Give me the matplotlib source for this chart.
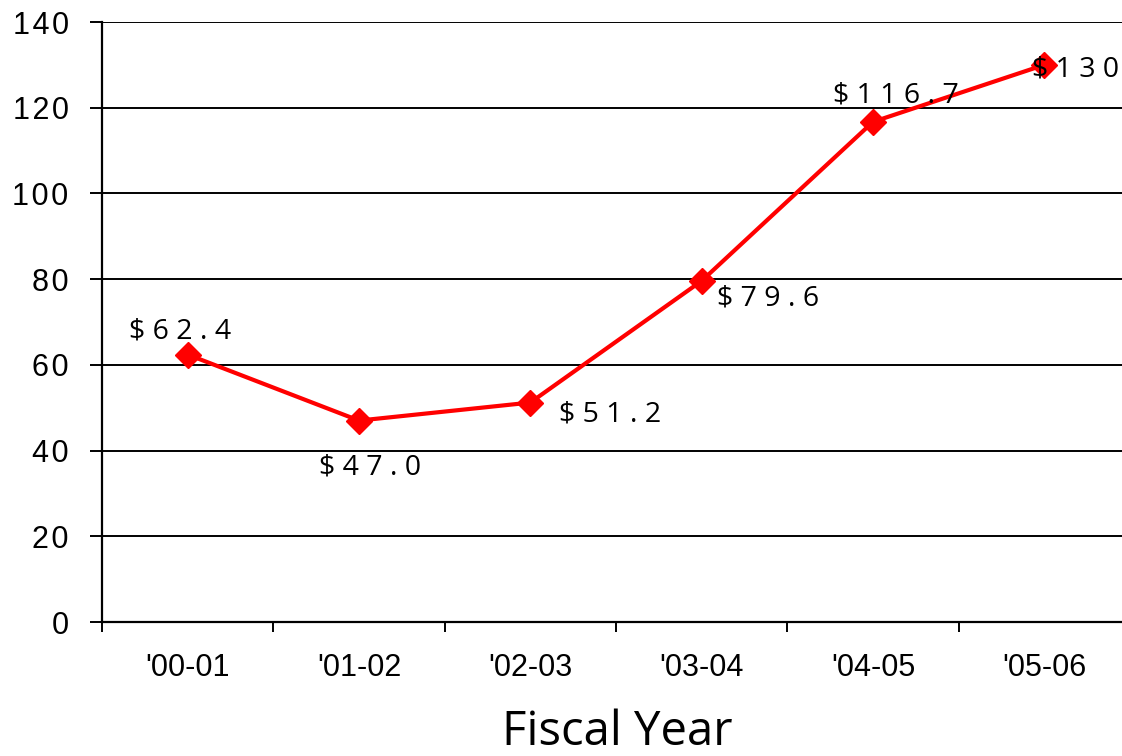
import matplotlib
matplotlib.use("Agg")
import matplotlib.pyplot as plt

years = ["'00-01", "'01-02", "'02-03", "'03-04", "'04-05", "'05-06"]
values = [62.4, 47.0, 51.2, 79.6, 116.7, 130]
labels = ["$62.4", "$47.0", "$51.2", "$79.6", "$116.7", "$130"]
# label offsets in pixels from each point
offsets = [(-8, 23), (11, -47), (80, -12), (66, -18), (23, 26), (31, -5)]

fig = plt.figure(figsize=(11.22, 7.56), dpi=100)
ax = fig.add_axes([102 / 1122, 134 / 756, 1028 / 1122, 600 / 756])

x = list(range(len(years)))
ax.plot(x, values, color="#ff0000", lw=3, marker="D", ms=13, zorder=3, clip_on=False)

for xi, v, lab, (dx, dy) in zip(x, values, labels, offsets):
    ax.annotate(" ".join(lab), (xi, v), xytext=(dx * 0.72, dy * 0.72),
                textcoords="offset points", ha="center", va="center",
                fontsize=20.5, family="Open Sans", color="black", zorder=4)

ax.set_xlim(-0.5, len(years) - 0.5)
ax.set_ylim(0, 140)
yt = list(range(0, 141, 20))
ax.set_yticks(yt)
ax.set_yticklabels(["\u200a".join(str(t)) for t in yt])
ax.grid(axis="y", color="black", lw=1.4)
ax.set_axisbelow(True)

ax.set_xticks([i + 0.5 for i in range(-1, len(years))])
ax.set_xticklabels([])
ax.set_xticks(x, minor=True)
ax.set_xticklabels(years, minor=True)
ax.tick_params(axis="x", which="major", length=7, width=1.4, direction="out")
ax.tick_params(axis="x", which="minor", length=0, pad=22, labelsize=22)
ax.tick_params(axis="y", length=9, width=1.4, pad=15, labelsize=22)
for lab in ax.get_xticklabels(minor=True) + ax.get_yticklabels():
    lab.set_family(["Liberation Sans", "DejaVu Sans"])

for s in ["top", "right"]:
    ax.spines[s].set_visible(False)
for s in ["left", "bottom"]:
    ax.spines[s].set_linewidth(1.6)

fig.text(617 / 1122, 0, "Fiscal Year", ha="center", va="bottom",
         fontsize=34, family="Open Sans")

fig.savefig("out.png", dpi=100)
